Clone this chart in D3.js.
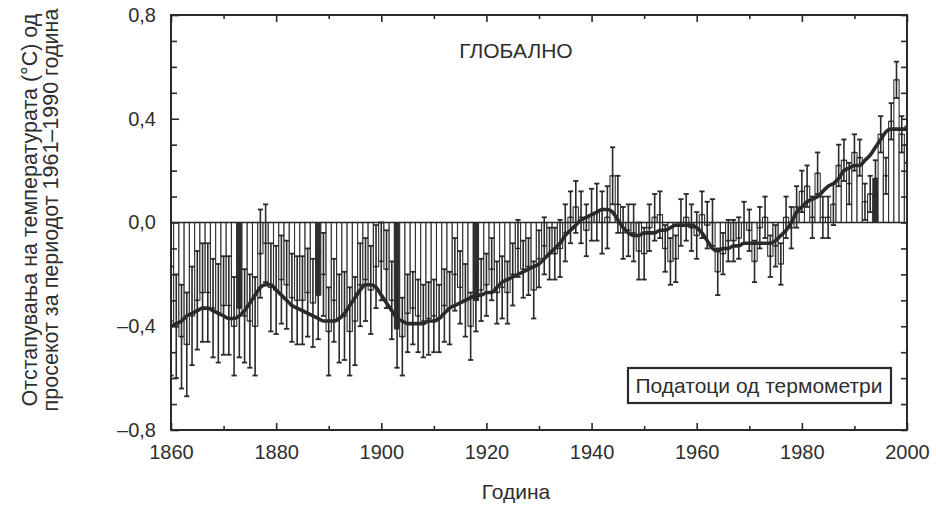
<!DOCTYPE html>
<html>
<head>
<meta charset="utf-8">
<script src="https://cdn.jsdelivr.net/npm/d3@7"></script>
<style>
  body { margin: 0; background: #fff; }
  text { font-family: "Liberation Sans", Arial, sans-serif; fill: #2e2e2e; }
</style>
</head>
<body>
<svg id="chart" width="936" height="506"></svg>
<script>
// annual global anomalies 1860..2000 (deg C vs 1961-1990)
var firstYear = 1860;
var anomaly = [
  -0.38, -0.40, -0.44, -0.47, -0.36, -0.30, -0.27, -0.27, -0.33, -0.35,
  -0.32, -0.32, -0.40, -0.33, -0.36, -0.38, -0.40, -0.12, -0.08, -0.25,
  -0.26, -0.22, -0.24, -0.29, -0.30, -0.30, -0.27, -0.31, -0.28, -0.20,
  -0.42, -0.30, -0.37, -0.36, -0.42, -0.38, -0.24, -0.22, -0.26, -0.17,
  -0.15, -0.18, -0.30, -0.41, -0.44, -0.35, -0.33, -0.36, -0.38, -0.37,
  -0.36, -0.37, -0.32, -0.33, -0.20, -0.25, -0.30, -0.40, -0.30, -0.26,
  -0.24, -0.18, -0.27, -0.25, -0.27, -0.20, -0.10, -0.18, -0.17, -0.26,
  -0.14, -0.09, -0.12, -0.12, -0.10, -0.04, 0.02, 0.06, 0.02, -0.03,
  0.03, 0.04, 0.00, 0.02, 0.18, 0.07, -0.04, -0.03, -0.04, -0.11,
  -0.12, -0.02, 0.02, 0.03, -0.10, -0.15, -0.14, 0.00, 0.02, -0.02,
  -0.05, 0.03, -0.01, 0.00, -0.19, -0.12, -0.07, -0.07, -0.06, 0.00,
  -0.03, -0.15, -0.02, 0.02, -0.13, -0.09, -0.16, 0.02, -0.02, 0.06,
  0.12, 0.14, 0.02, 0.19, 0.02, 0.02, 0.07, 0.22, 0.24, 0.15,
  0.27, 0.25, 0.08, 0.11, 0.17, 0.34, 0.18, 0.39, 0.55, 0.34,
  0.30
];
// half-width of the error bars
var errorHalf = [
  0.21, 0.20, 0.20, 0.20, 0.19, 0.19, 0.19, 0.19, 0.19, 0.19,
  0.19, 0.19, 0.19, 0.19, 0.18, 0.18, 0.19, 0.17, 0.15, 0.17,
  0.17, 0.17, 0.17, 0.17, 0.17, 0.17, 0.17, 0.17, 0.17, 0.16,
  0.17, 0.16, 0.17, 0.17, 0.17, 0.17, 0.16, 0.16, 0.17, 0.16,
  0.15, 0.15, 0.15, 0.15, 0.15, 0.15, 0.14, 0.14, 0.14, 0.14,
  0.14, 0.13, 0.14, 0.14, 0.14, 0.14, 0.14, 0.13, 0.12, 0.12,
  0.12, 0.12, 0.12, 0.12, 0.12, 0.12, 0.11, 0.11, 0.11, 0.11,
  0.11, 0.11, 0.10, 0.10, 0.11, 0.11, 0.10, 0.10, 0.10, 0.10,
  0.10, 0.11, 0.12, 0.12, 0.11, 0.11, 0.10, 0.10, 0.11, 0.11,
  0.10, 0.09, 0.09, 0.09, 0.09, 0.09, 0.09, 0.09, 0.09, 0.09,
  0.09, 0.09, 0.09, 0.09, 0.09, 0.08, 0.08, 0.08, 0.08, 0.08,
  0.08, 0.08, 0.08, 0.08, 0.08, 0.08, 0.08, 0.08, 0.08, 0.08,
  0.08, 0.08, 0.08, 0.08, 0.08, 0.08, 0.08, 0.08, 0.08, 0.08,
  0.07, 0.07, 0.07, 0.07, 0.07, 0.07, 0.07, 0.07, 0.07, 0.07,
  0.07
];
// smoothed curve
var smooth = [
  -0.40, -0.39, -0.38, -0.36, -0.35, -0.34, -0.33, -0.33, -0.34, -0.35,
  -0.36, -0.37, -0.37, -0.36, -0.34, -0.31, -0.28, -0.25, -0.24, -0.24,
  -0.26, -0.28, -0.30, -0.32, -0.33, -0.34, -0.35, -0.36, -0.37, -0.38,
  -0.38, -0.38, -0.37, -0.35, -0.32, -0.29, -0.26, -0.24, -0.24, -0.25,
  -0.28, -0.31, -0.34, -0.37, -0.38, -0.39, -0.39, -0.39, -0.39, -0.38,
  -0.38, -0.37, -0.35, -0.33, -0.32, -0.31, -0.30, -0.29, -0.28, -0.28,
  -0.27, -0.27, -0.25, -0.23, -0.22, -0.21, -0.20, -0.19, -0.18, -0.17,
  -0.16, -0.14, -0.12, -0.10, -0.08, -0.05, -0.03, -0.01, 0.01, 0.02,
  0.03, 0.04, 0.05, 0.05, 0.04, 0.01, -0.02, -0.04, -0.05, -0.05,
  -0.04, -0.04, -0.04, -0.03, -0.03, -0.02, -0.01, -0.01, -0.01, -0.01,
  -0.02, -0.04, -0.07, -0.10, -0.11, -0.10, -0.10, -0.09, -0.09, -0.08,
  -0.08, -0.08, -0.08, -0.08, -0.08, -0.07, -0.05, -0.03, 0.00, 0.04,
  0.06, 0.08, 0.09, 0.10, 0.12, 0.14, 0.15, 0.17, 0.20, 0.21,
  0.22, 0.22, 0.24, 0.26, 0.29, 0.32, 0.35, 0.36, 0.36, 0.36,
  0.36
];
var filledYears = [1873, 1888, 1903, 1918, 1994];
var yTicksMajor = [0.8, 0.4, 0.0, -0.4, -0.8];
var yTicksMinor = [0.7, 0.6, 0.5, 0.3, 0.2, 0.1, -0.1, -0.2, -0.3, -0.5, -0.6, -0.7];
var xTicksMajor = [1860, 1880, 1900, 1920, 1940, 1960, 1980, 2000];
var xTicksMinor = [1870, 1890, 1910, 1930, 1950, 1970, 1990];

(function () {
  var years = anomaly.map(function (d, i) { return firstYear + i; });

  var svg = d3.select("#chart");
  var mLeft = 171, mRight = 907, mTop = 15, mBottom = 430;
  var ink = "#2a2a2a";

  var x = d3.scaleLinear().domain([1860, 2000]).range([mLeft, mRight]);
  var y = d3.scaleLinear().domain([-0.8, 0.8]).range([mBottom, mTop]);
  var bw = x(1861) - x(1860);

  svg.append("clipPath").attr("id", "plotclip")
    .append("rect").attr("x", mLeft).attr("y", mTop)
    .attr("width", mRight - mLeft).attr("height", mBottom - mTop);

  var plot = svg.append("g").attr("clip-path", "url(#plotclip)");

  // bars from zero to the annual value
  plot.selectAll("rect.bar").data(years).enter().append("rect")
    .attr("class", "bar")
    .attr("x", function (d) { return x(d) - bw / 2; })
    .attr("width", bw)
    .attr("y", function (d, i) { return Math.min(y(anomaly[i]), y(0)); })
    .attr("height", function (d, i) { return Math.abs(y(anomaly[i]) - y(0)); })
    .attr("fill", function (d) { return filledYears.indexOf(d) >= 0 ? "#2f2f2f" : "#fff"; })
    .attr("stroke", "#333")
    .attr("stroke-width", 1.1);

  // error bars
  var eb = plot.selectAll("g.err").data(years).enter().append("g").attr("class", "err");
  eb.append("line")
    .attr("x1", function (d) { return x(d); }).attr("x2", function (d) { return x(d); })
    .attr("y1", function (d, i) { return y(anomaly[i] + errorHalf[i]); })
    .attr("y2", function (d, i) { return y(anomaly[i] - errorHalf[i]); })
    .attr("stroke", ink).attr("stroke-width", 1.6);
  [1, -1].forEach(function (s) {
    eb.append("line")
      .attr("x1", function (d) { return x(d) - 2.6; }).attr("x2", function (d) { return x(d) + 2.6; })
      .attr("y1", function (d, i) { return y(anomaly[i] + s * errorHalf[i]); })
      .attr("y2", function (d, i) { return y(anomaly[i] + s * errorHalf[i]); })
      .attr("stroke", ink).attr("stroke-width", 1.8);
  });
  eb.append("circle")
    .attr("cx", function (d) { return x(d); })
    .attr("cy", function (d, i) { return y(anomaly[i]); })
    .attr("r", 1.3).attr("fill", ink);

  // zero line
  svg.append("line").attr("x1", mLeft).attr("x2", mRight)
    .attr("y1", y(0)).attr("y2", y(0))
    .attr("stroke", ink).attr("stroke-width", 1.6);

  // smoothed curve
  plot.append("path")
    .datum(years)
    .attr("fill", "none")
    .attr("stroke", ink)
    .attr("stroke-width", 3.6)
    .attr("stroke-linejoin", "round")
    .attr("d", d3.line()
      .x(function (d) { return x(d); })
      .y(function (d, i) { return y(smooth[i]); })
      .curve(d3.curveMonotoneX));

  // axes, ticks pointing inward
  function styleAxis(g) {
    g.select(".domain").remove();
    g.selectAll("line").attr("stroke", ink).attr("stroke-width", 1.6);
    g.selectAll("text").attr("fill", "#2e2e2e")
      .style("font-family", "'Liberation Sans', Arial, sans-serif").style("font-size", "20px");
  }
  var fmtY = function (d) { return (d < 0 ? "\u2013" : "") + Math.abs(d).toFixed(1).replace(".", ","); };

  svg.append("g").attr("transform", "translate(" + mLeft + ",0)")
    .call(d3.axisLeft(y).tickValues(yTicksMajor).tickSizeInner(-8).tickSizeOuter(0)
      .tickPadding(15).tickFormat(fmtY))
    .call(styleAxis);
  svg.append("g").attr("transform", "translate(" + mLeft + ",0)")
    .call(d3.axisLeft(y).tickValues(yTicksMinor).tickSizeInner(-6).tickSizeOuter(0).tickFormat(""))
    .call(styleAxis);
  svg.append("g").attr("transform", "translate(" + mRight + ",0)")
    .call(d3.axisRight(y).tickValues(yTicksMajor.concat(yTicksMinor)).tickSizeInner(-6).tickSizeOuter(0).tickFormat(""))
    .call(styleAxis);
  svg.append("g").attr("transform", "translate(0," + mBottom + ")")
    .call(d3.axisBottom(x).tickValues(xTicksMajor).tickSizeInner(-7).tickSizeOuter(0)
      .tickPadding(15).tickFormat(d3.format("d")))
    .call(styleAxis);
  svg.append("g").attr("transform", "translate(0," + mBottom + ")")
    .call(d3.axisBottom(x).tickValues(xTicksMinor).tickSizeInner(-4).tickSizeOuter(0).tickFormat(""))
    .call(styleAxis);
  svg.append("g").attr("transform", "translate(0," + mTop + ")")
    .call(d3.axisTop(x).tickValues(xTicksMajor).tickSizeInner(-7).tickSizeOuter(0).tickFormat(""))
    .call(styleAxis);
  svg.append("g").attr("transform", "translate(0," + mTop + ")")
    .call(d3.axisTop(x).tickValues(xTicksMinor).tickSizeInner(-4).tickSizeOuter(0).tickFormat(""))
    .call(styleAxis);

  // frame
  svg.append("rect").attr("x", mLeft).attr("y", mTop)
    .attr("width", mRight - mLeft).attr("height", mBottom - mTop)
    .attr("fill", "none").attr("stroke", ink).attr("stroke-width", 2);

  // titles
  svg.append("text").attr("x", 516).attr("y", 58).attr("text-anchor", "middle")
    .style("font-size", "21px").text("ГЛОБАЛНО");

  svg.append("text").attr("x", 516).attr("y", 499).attr("text-anchor", "middle")
    .style("font-size", "21px").text("Година");

  var yTitle = svg.append("text").attr("transform", "translate(37,210) rotate(-90)")
    .attr("text-anchor", "middle").style("font-size", "21.5px");
  yTitle.append("tspan").attr("x", 0).attr("y", 0).text("Отстапувања на температурата (°C) од");
  yTitle.append("tspan").attr("x", 0).attr("y", 21).text("просекот за периодот 1961–1990 година");

  // legend box
  svg.append("rect").attr("x", 628).attr("y", 368).attr("width", 263).attr("height", 35)
    .attr("fill", "#fff").attr("stroke", ink).attr("stroke-width", 2.2);
  svg.append("text").attr("x", 759).attr("y", 393).attr("text-anchor", "middle")
    .style("font-size", "21px").text("Податоци од термометри");
})();
</script>
</body>
</html>
